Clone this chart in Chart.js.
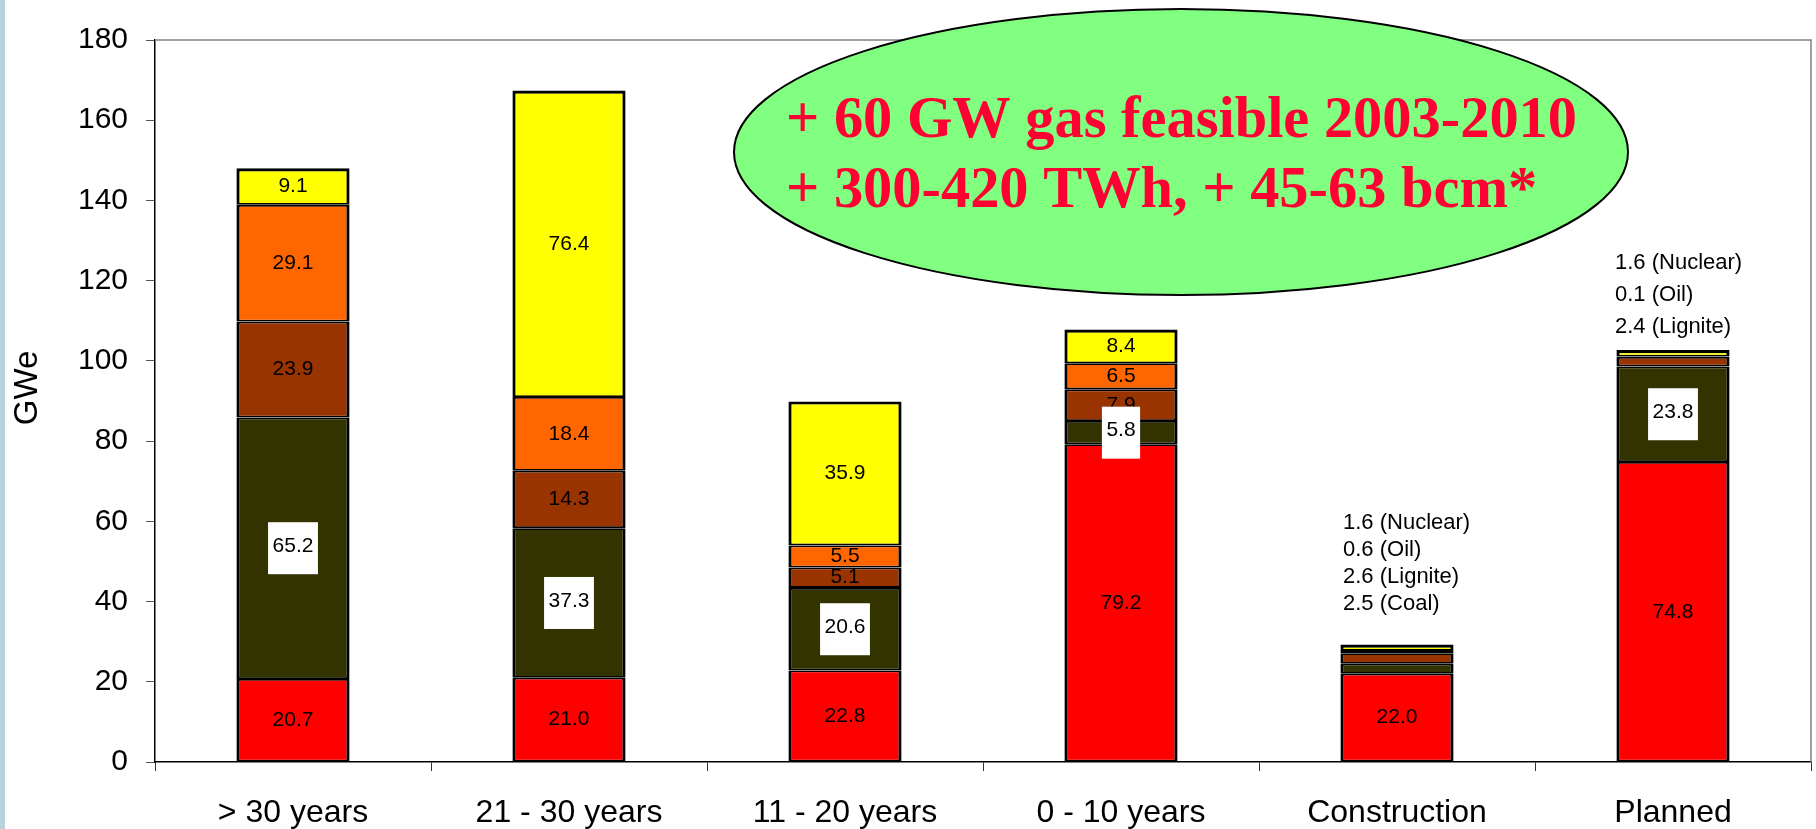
<!DOCTYPE html>
<html>
<head>
<meta charset="utf-8">
<script src="https://cdn.jsdelivr.net/npm/chart.js@4.4.1/dist/chart.umd.min.js"></script>
<style>
    html, body { margin: 0; padding: 0; background: #fff; overflow: hidden; }
    #wrap { width: 1816px; height: 829px; }
</style>
</head>
<body>
<div id="wrap"><canvas id="chart" width="1816" height="829"></canvas></div>
<script>
// 数据（GWe）
const categories = ['> 30 years', '21 - 30 years', '11 - 20 years', '0 - 10 years', 'Construction', 'Planned'];
const gas = [20.7, 21.0, 22.8, 79.2, 22.0, 74.8];
const coal = [65.2, 37.3, 20.6, 5.8, 2.5, 23.8];
const lignite = [23.9, 14.3, 5.1, 7.9, 2.6, 2.4];
const oil = [29.1, 18.4, 5.5, 6.5, 0.6, 0.1];
const nuclear = [9.1, 76.4, 35.9, 8.4, 1.6, 1.6];
const yMin = 0, yMax = 180, yStep = 20;
const bubbleLines = ['+ 60 GW gas feasible 2003-2010', '+ 300-420 TWh, + 45-63 bcm*'];

const FONT = '"Liberation Sans", Arial, sans-serif';
const SMALL = 5; // 小于此值的分段改为在柱子上方注释

// 注释位置（柱顶上方的间距、行距、水平偏移）
const noteLayout = {
    4: { gap: 41, lead: 27, dx: -54 },
    5: { gap: 23, lead: 32, dx: -58 }
};

const inner = { top: 1.8, bottom: 1.8, left: 3.2, right: 3.2 };

function makeSet(label, data, color, extra) {
    return Object.assign({
        label,
        data,
        backgroundColor: color,
        borderColor: '#000',
        borderWidth: inner,
        borderSkipped: false,
        barPercentage: 0.41,
        categoryPercentage: 1
    }, extra || {});
}

const datasets = [
    makeSet('Gas', gas, '#ff0000'),
    makeSet('Coal', coal, '#333300', { boxed: true }),
    makeSet('Lignite', lignite, '#993300'),
    makeSet('Oil', oil, '#ff6600'),
    makeSet('Nuclear', nuclear, '#ffff00', { borderWidth: { top: 3.2, bottom: 1.8, left: 3.2, right: 3.2 } })
];

const framePlugin = {
    id: 'frame',
    beforeDraw(chart) {
        const ctx = chart.ctx;
        ctx.save();
        ctx.fillStyle = '#fff';
        ctx.fillRect(0, 0, chart.width, chart.height);
        ctx.fillStyle = '#b9d1db';
        ctx.fillRect(0, 0, 5, chart.height);
        ctx.restore();
    },
    afterDraw(chart) {
        const { ctx, chartArea: a } = chart;
        ctx.save();
        // 顶部和右侧边框
        ctx.strokeStyle = '#808080';
        ctx.lineWidth = 1.5;
        ctx.beginPath();
        ctx.moveTo(a.left, a.top);
        ctx.lineTo(a.right, a.top);
        ctx.lineTo(a.right, a.bottom);
        ctx.stroke();

        // y 轴标题
        ctx.fillStyle = '#000';
        ctx.font = `33px ${FONT}`;
        ctx.textAlign = 'center';
        ctx.textBaseline = 'middle';
        ctx.translate(28, 388);
        ctx.rotate(-Math.PI / 2);
        ctx.fillText('GWe', 0, 0);
        ctx.restore();

        // 椭圆注释
        ctx.save();
        ctx.beginPath();
        ctx.ellipse(1181, 152, 447, 143, 0, 0, Math.PI * 2);
        ctx.fillStyle = '#80ff80';
        ctx.fill();
        ctx.lineWidth = 2;
        ctx.strokeStyle = '#000';
        ctx.stroke();

        ctx.font = `bold 60px "Liberation Serif", "Times New Roman", serif`;
        ctx.fillStyle = '#ff0033';
        ctx.textAlign = 'left';
        ctx.textBaseline = 'alphabetic';
        const sx = 791 / ctx.measureText(bubbleLines[0]).width;
        const baselines = [137, 207];
        bubbleLines.forEach((line, i) => {
            ctx.save();
            ctx.translate(786, baselines[i]);
            ctx.scale(sx, 1);
            ctx.fillText(line, 0, 0);
            ctx.restore();
        });
        ctx.restore();
    }
};

const labelPlugin = {
    id: 'segmentLabels',
    afterDatasetsDraw(chart) {
        const ctx = chart.ctx;
        ctx.save();
        ctx.font = `21px ${FONT}`;
        ctx.textAlign = 'center';
        ctx.textBaseline = 'middle';

        const boxed = [];
        chart.data.datasets.forEach((ds, di) => {
            const meta = chart.getDatasetMeta(di);
            meta.data.forEach((bar, i) => {
                const v = ds.data[i];
                if (v < SMALL) return;
                const item = { x: bar.x, y: (bar.y + bar.base) / 2, text: v.toFixed(1) };
                if (ds.boxed) {
                    boxed.push(item);
                } else {
                    ctx.fillStyle = '#000';
                    ctx.fillText(item.text, item.x, item.y);
                }
            });
        });

        boxed.forEach(item => {
            const w = ctx.measureText(item.text).width + 9;
            ctx.fillStyle = '#fff';
            ctx.fillRect(item.x - w / 2, item.y - 26, w, 52);
            ctx.fillStyle = '#000';
            ctx.fillText(item.text, item.x, item.y - 2);
        });

        // 小分段的注释（自上而下）
        ctx.textAlign = 'left';
        ctx.font = `22px ${FONT}`;
        categories.forEach((cat, i) => {
            const lines = [];
            for (let di = chart.data.datasets.length - 1; di >= 0; di--) {
                const ds = chart.data.datasets[di];
                if (ds.data[i] < SMALL) lines.push(`${ds.data[i].toFixed(1)} (${ds.label})`);
            }
            if (!lines.length || !noteLayout[i]) return;
            const lay = noteLayout[i];
            const topBar = chart.getDatasetMeta(chart.data.datasets.length - 1).data[i];
            const bottomY = topBar.y - lay.gap;
            lines.forEach((line, k) => {
                const y = bottomY - (lines.length - 1 - k) * lay.lead;
                ctx.fillStyle = '#000';
                ctx.fillText(line, topBar.x + lay.dx, y);
            });
        });
        ctx.restore();
    }
};

new Chart(document.getElementById('chart').getContext('2d'), {
    type: 'bar',
    data: { labels: categories, datasets },
    options: {
        responsive: false,
        animation: false,
        layout: { padding: { left: 0, right: 5, top: 40, bottom: 0 } },
        plugins: {
            legend: { display: false },
            tooltip: { enabled: false }
        },
        scales: {
            x: {
                stacked: true,
                grid: { offset: true, drawOnChartArea: false, tickLength: 9, color: '#333', lineWidth: 1 },
                border: { color: '#000', width: 1.5 },
                ticks: { color: '#000', font: { family: FONT, size: 32 }, padding: 23, maxRotation: 0, autoSkip: false },
                afterFit(scale) { scale.height = 67; }
            },
            y: {
                stacked: true,
                min: yMin,
                max: yMax,
                grid: { drawOnChartArea: false, tickLength: 9, color: '#555', lineWidth: 1 },
                border: { color: '#000', width: 1.5 },
                ticks: { stepSize: yStep, color: '#000', font: { family: FONT, size: 30 }, padding: 18 },
                afterFit(scale) { scale.width = 155; }
            }
        }
    },
    plugins: [framePlugin, labelPlugin]
});
</script>
</body>
</html>
